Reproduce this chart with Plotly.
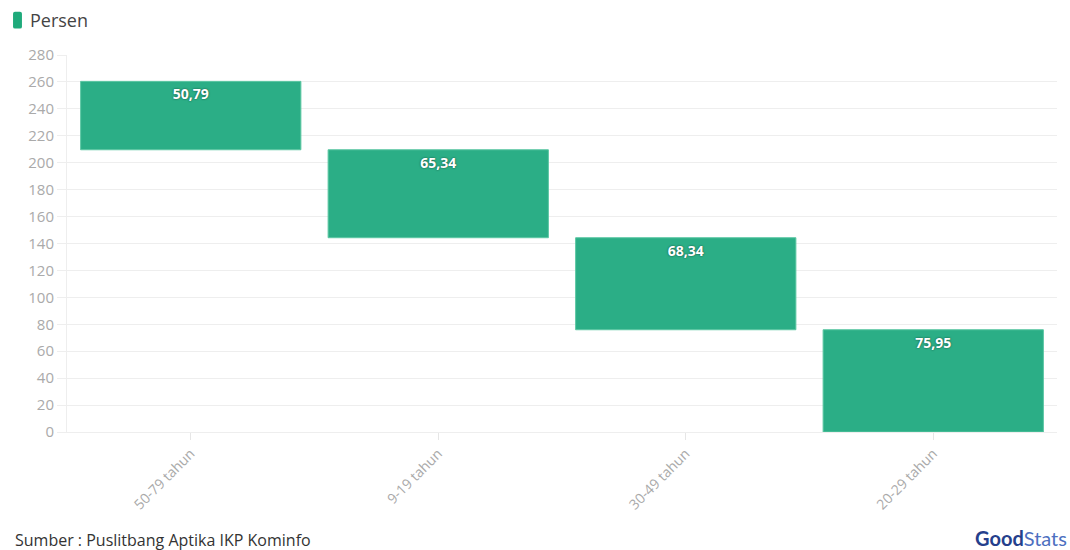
import plotly.graph_objects as go

categories = ["50-79 tahun", "9-19 tahun", "30-49 tahun", "20-29 tahun"]
values = [50.79, 65.34, 68.34, 75.95]
labels = ["50,79", "65,34", "68,34", "75,95"]
y_ticks = list(range(0, 281, 20))

# floating (waterfall-style) bases: each bar sits on the sum of those to its right
bases = []
for i in range(len(values)):
    bases.append(sum(values[i + 1:]))

GREEN = "#2bae86"
FONT = "Open Sans, Noto Sans, sans-serif"

fig = go.Figure()
fig.add_trace(go.Bar(
    x=categories, y=values, base=bases,
    marker=dict(color=GREEN, line=dict(color="#5cc7a3", width=1)),
    width=0.89,
    text=labels, textposition="inside", insidetextanchor="end",
    textangle=0,
    textfont=dict(color="white", size=14, family=FONT, weight="bold",
                  shadow="0px 0px 2px rgba(0,0,0,0.6)"),
    cliponaxis=False,
    showlegend=False,
))

fig.update_layout(
    width=1070, height=550,
    margin=dict(l=67, r=13, t=55, b=118),
    paper_bgcolor="white", plot_bgcolor="white",
    font=dict(family=FONT),
    bargap=0.11,
    xaxis=dict(
        tickangle=-45, tickfont=dict(color="#aaaaaa", size=14),
        showgrid=False, showline=True, linecolor="#eeeeee", linewidth=1,
        ticks="outside", ticklen=7, tickcolor="#e6e6e6",
    ),
    yaxis=dict(
        range=[0, 280], tickvals=y_ticks,
        tickfont=dict(color="#aaaaaa", size=15),
        showgrid=True, gridcolor="#eeeeee", gridwidth=1,
        zeroline=False, showline=True, linecolor="#eeeeee",
        ticks="outside", ticklen=9, tickcolor="#eeeeee",
    ),
    shapes=[dict(
        type="path", xref="paper", yref="paper",
        path="M -0.0525 1.115 L -0.0475 1.115 Q -0.0455 1.115 -0.0455 1.11 L -0.0455 1.075 "
             "Q -0.0455 1.07 -0.0475 1.07 L -0.0525 1.07 Q -0.0545 1.07 -0.0545 1.075 "
             "L -0.0545 1.11 Q -0.0545 1.115 -0.0525 1.115 Z",
        fillcolor="#1faa7b", line=dict(width=0),
    )],
    annotations=[
        dict(text="Persen", xref="paper", yref="paper", x=-0.0395, y=1.0925,
             xanchor="left", yanchor="middle", showarrow=False,
             font=dict(size=18, color="#444444", family=FONT)),
        dict(text="Sumber : Puslitbang Aptika IKP Kominfo", xref="paper", yref="paper",
             x=-0.0545, y=-0.286, xanchor="left", yanchor="middle", showarrow=False,
             font=dict(size=16, color="#333333", family=FONT)),
        dict(text="<b><span style='color:#253f8c'>Good</span></b><span style='color:#4d6fc0'>Stats</span>",
             xref="paper", yref="paper",
             x=1.012, y=-0.28, xanchor="right", yanchor="middle", showarrow=False,
             font=dict(size=20, color="#3a5aa8", family="Lato, sans-serif")),
    ],
)

fig.write_html("out.html")
